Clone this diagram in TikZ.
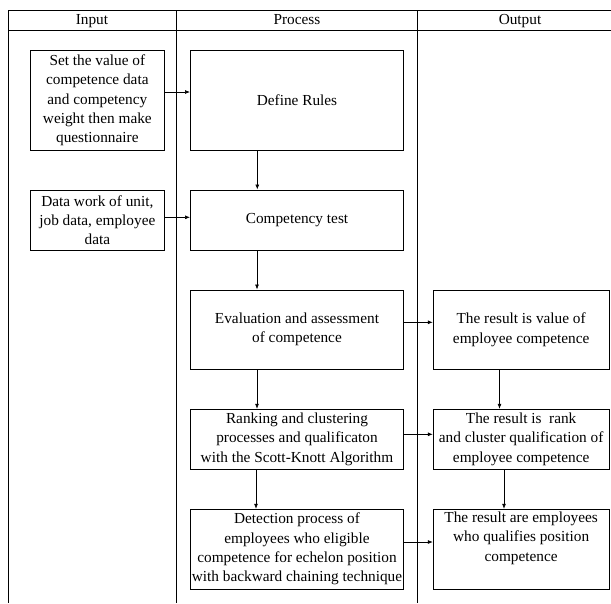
\documentclass[tikz,border=0pt]{standalone}
\usepackage{fontspec}
\setmainfont{Liberation Serif}
\usetikzlibrary{arrows.meta}
\begin{document}
\begin{tikzpicture}[x=1pt,y=-1pt,
  grid/.style={line width=0.9pt},
  box/.style={draw,line width=1pt,rectangle,align=center,inner sep=0pt,
    font=\fontsize{15.3}{19.3}\selectfont},
  head/.style={inner sep=0pt,text height=10.5pt,text depth=3.5pt,
    font=\fontsize{15.3}{19.3}\selectfont},
  arr/.style={line width=0.7pt,-{Latex[length=5pt,width=4pt]}}]
\useasboundingbox (0,0) rectangle (611,603);
% table frame
\draw[grid] (8,10.7) -- (611,10.7);
\draw[grid] (8,30.7) -- (611,30.7);
\draw[grid] (8,10.7) -- (8,603);
\draw[grid] (176,10.7) -- (176,603);
\draw[grid] (417.5,10.7) -- (417.5,603);
\node[head] (hin) at (92,21) {Input};
\node[head] (hpr) at (297,21) {Process};
\node[head] (hout) at (520,21) {Output};
% input boxes
\node[box,minimum width=133.3,minimum height=99.3] (set) at (97.35,100.35)
  {Set the value of\\competence data\\and competency\\weight then make\\questionnaire};
\node[box,minimum width=133.3,minimum height=59.5] (dat) at (97.35,220.25)
  {Data work of unit,\\job data, employee\\data};
% process boxes
\node[box,minimum width=213,minimum height=99.3] (def) at (297,100.35) {Define Rules};
\node[box,minimum width=213,minimum height=60] (ct) at (297,220) {Competency test};
\node[box,minimum width=213,minimum height=79.3] (ev) at (297,329.65)
  {Evaluation and assessment\\of competence};
\node[box,minimum width=213,minimum height=60] (rk) at (297,439.3)
  {Ranking and clustering\\processes and qualificaton\\with the Scott-Knott Algorithm};
\node[box,minimum width=213,minimum height=79.7] (dt) at (297,549.15)
  {Detection process of\\employees who eligible\\competence for echelon position\\with backward chaining technique};
% output boxes
\node[box,minimum width=175.7,minimum height=79.3] (r1) at (521.15,329.65)
  {The result is value of\\employee competence};
\node[box,minimum width=175.7,minimum height=60] (r2) at (521.15,439.3)
  {The result is~ rank\\and cluster qualification of\\employee competence};
\node[box,minimum width=175.7,minimum height=79.7] (r3) at (521.15,549.15)
  {The result are employees\\who qualifies position\\competence\\\strut};
% connectors
\draw[arr] (set.east |- 0,92) -- (def.west |- 0,92);
\draw[arr] (dat.east |- 0,217.3) -- (ct.west |- 0,217.3);
\draw[arr] (def.south -| 257.3,0) -- (ct.north -| 257.3,0);
\draw[arr] (ct.south -| 257,0) -- (ev.north -| 257,0);
\draw[arr] (ev.south -| 257,0) -- (rk.north -| 257,0);
\draw[arr] (rk.south -| 256,0) -- (dt.north -| 256,0);
\draw[arr] (ev.east |- 0,322.3) -- (r1.west |- 0,322.3);
\draw[arr] (rk.east |- 0,434.3) -- (r2.west |- 0,434.3);
\draw[arr] (dt.east |- 0,542) -- (r3.west |- 0,542);
\draw[arr] (r1.south -| 499.5,0) -- (r2.north -| 499.5,0);
\draw[arr] (r2.south -| 504,0) -- (r3.north -| 504,0);
\end{tikzpicture}
\end{document}
